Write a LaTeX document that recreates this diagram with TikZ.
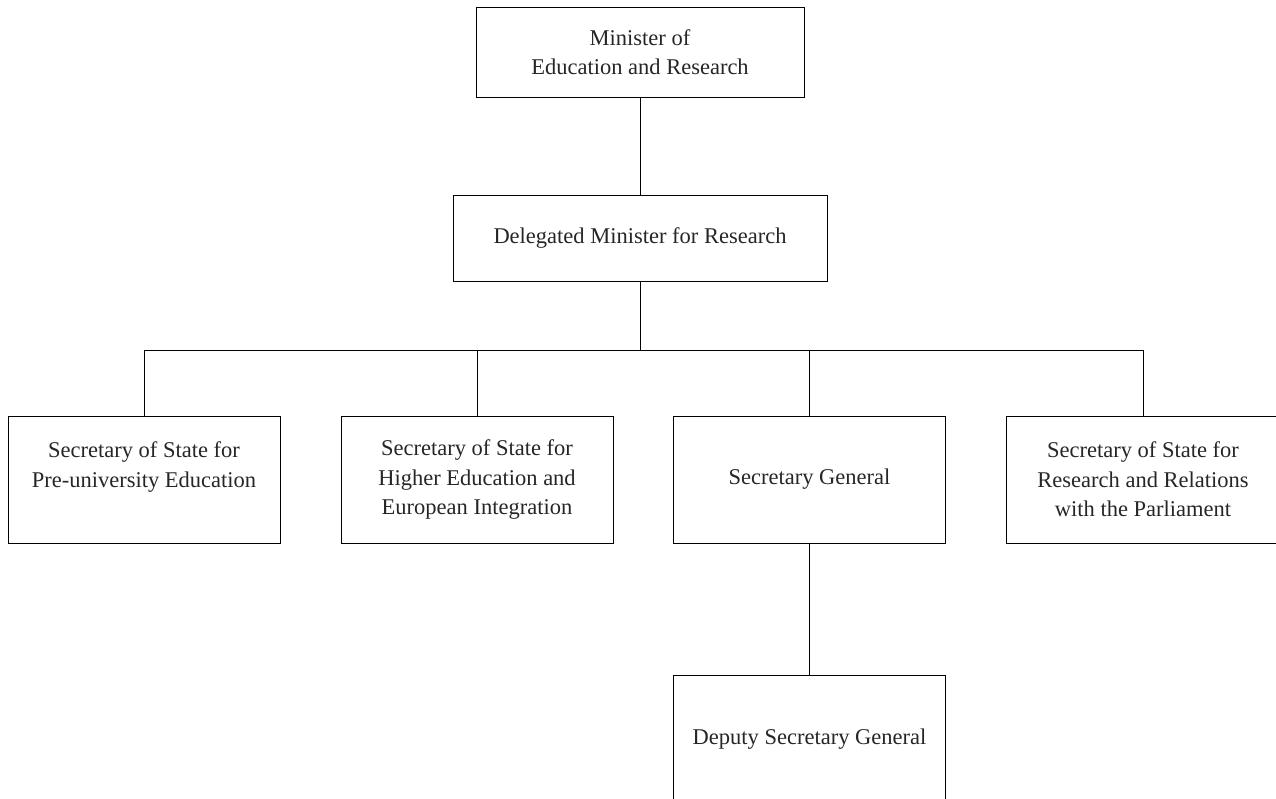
\documentclass[tikz,border=0pt]{standalone}
\usepackage{fontspec}
\setmainfont{Liberation Serif}
\begin{document}
\begin{tikzpicture}[x=1pt,y=-1pt,
  box/.style={draw, line width=0.8pt, minimum width=272pt, minimum height=127pt, inner sep=0pt, align=center, font=\fontsize{22.5}{29.5}\selectfont, text=black!85},
  link/.style={line width=0.8pt}]
\useasboundingbox (0,0) rectangle (1276,798);
\clip (0,0) rectangle (1276,798);
\node[box, minimum width=328pt, minimum height=90pt] (top) at (640,52) {Minister of\\Education and Research};
\node[box, minimum width=374pt, minimum height=86pt] (del) at (640,238) {Delegated Minister for Research};
\node[box] (b1) at (144,479.5) {Secretary of State for\\Pre-university Education\\\mbox{}};
\node[box] (b2) at (477,479.5) {Secretary of State for\\Higher Education and\\European Integration};
\node[box] (b3) at (809.5,479.5) {Secretary General};
\node[box, minimum width=274pt] (b4) at (1143,479.5) {Secretary of State for\\Research and Relations\\with the Parliament};
\node[box] (dep) at (809.5,739) {Deputy Secretary General};
\coordinate (bar) at (640,350);
\draw[link] (top.south) -- (del.north);
\draw[link] (del.south) -- (bar);
\draw[link] (b1.north) -- (b1.north |- bar) -- (b4.north |- bar) -- (b4.north);
\draw[link] (b2.north) -- (b2.north |- bar);
\draw[link] (b3.north) -- (b3.north |- bar);
\draw[link] (b3.south) -- (dep.north);
\end{tikzpicture}
\end{document}
